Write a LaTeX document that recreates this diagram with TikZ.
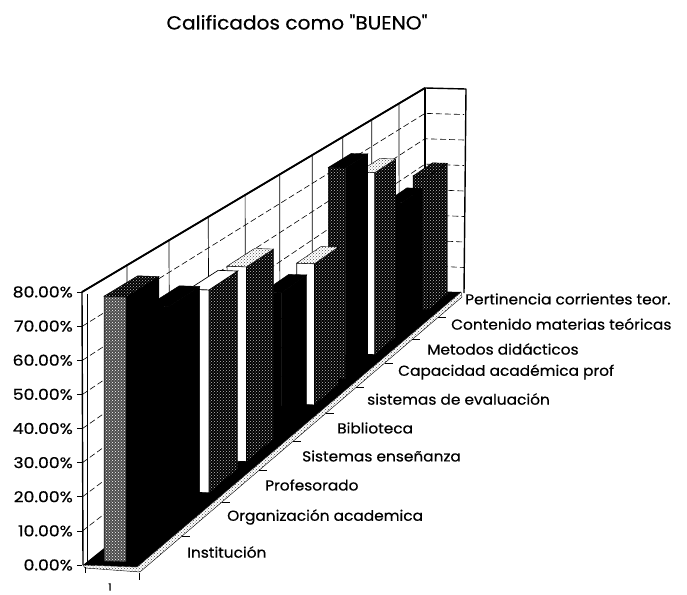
\documentclass[tikz,border=0pt]{standalone}
\usepackage{fontspec}
\setmainfont{Poppins}
\newfontfamily\labfont{Poppins}[FakeStretch=1.06,FakeBold=0.5]
\newfontfamily\numfont{Poppins}[FakeStretch=1.15,FakeBold=0.5]
\usetikzlibrary{patterns}
\newcommand\drawbar[5]{%
  \pgfmathsetmacro\ta{#1/10+0.012}%
  \pgfmathsetmacro\tb{#1/10+0.088}%
  \path[#4] ({px(\ta,0.70)},{py(\ta,0.70,0)}) -- ({px(\tb,0.70)},{py(\tb,0.70,0)}) -- ({px(\tb,0.70)},{py(\tb,0.70,#2)}) -- ({px(\ta,0.70)},{py(\ta,0.70,#2)}) -- cycle;
  \path[#3] ({px(\ta,0.29)},{py(\ta,0.29,0)}) -- ({px(\ta,0.70)},{py(\ta,0.70,0)}) -- ({px(\ta,0.70)},{py(\ta,0.70,#2)}) -- ({px(\ta,0.29)},{py(\ta,0.29,#2)}) -- cycle;
  \path[#5] ({px(\ta,0.29)},{py(\ta,0.29,#2)}) -- ({px(\ta,0.70)},{py(\ta,0.70,#2)}) -- ({px(\tb,0.70)},{py(\tb,0.70,#2)}) -- ({px(\tb,0.29)},{py(\tb,0.29,#2)}) -- cycle;
}
\begin{document}
\begin{tikzpicture}[x=1pt,y=-1pt,
  declare function={
    uu(\td)=1.36*\td/(1+0.36*\td);
    px(\td,\sd)=(1-uu(\td))*(83+54*\sd)+uu(\td)*(425+36*\sd);
    py(\td,\sd,\hd)=(1-uu(\td))*(565+2*\sd)+uu(\td)*(291+1*\sd)-\hd*341.25/(1+0.36*\td);
  },
  blk/.style={fill=black,draw=black,line width=0.4pt},
  dpat/.style={preaction={fill=black},pattern=crosshatch dots,pattern color=white!75!black,draw=black,line width=0.4pt},
  mpat/.style={preaction={fill=black!70},pattern=crosshatch dots,pattern color=white,draw=black,line width=0.4pt},
  wht/.style={fill=white,draw=black,line width=0.7pt},
  lpat/.style={preaction={fill=white},pattern=crosshatch dots,pattern color=black!70,draw=black,line width=0.4pt},
  wallfill/.style={fill=white},
  walledge/.style={draw=black,line width=1.4pt,line join=round},
  gridln/.style={draw=black,line width=0.6pt,dash pattern=on 6pt off 3pt},
  divln/.style={draw=black,line width=0.7pt},
  tickln/.style={draw=black,line width=0.7pt},
  ylab/.style={anchor=east,inner sep=0pt,font=\numfont\fontsize{15}{15}\selectfont},
  clab/.style={anchor=west,inner sep=0pt,font=\labfont\fontsize{14.5}{14.5}\selectfont},
]
\useasboundingbox[fill=white] (0,0) rectangle (687,594);

% walls
\path[wallfill] (82,292) -- (425,88) -- (425,291) -- (83,565) -- cycle;
\path[wallfill] (425,88) -- (466,89) -- (464,293) -- (425,291) -- cycle;
\foreach \k in {1,...,9}
  \draw[divln] ({82+343*uu(\k/10)},{292-204*uu(\k/10)}) -- ({83+342*uu(\k/10)},{565-274*uu(\k/10)});
\foreach \k in {1,...,7}
  \draw[gridln] (82.5,{565-34.125*\k}) -- (425,{291-25.375*\k}) -- (464,{293-25.5*\k});
\draw[walledge] (83,565) -- (82,292) -- (425,88) -- (466,89) -- (464,293);
\draw[line width=1.8pt] (82,292) -- (425,88);
\draw[walledge] (425,88) -- (425,291);
\draw[line width=0.7pt] (87,563) -- (87,294);

% floor
\path[fill=black] ({px(0,0)},{py(0,0,0)}) -- ({px(0,1)},{py(0,1,0)}) -- ({px(1,1)},{py(1,1,0)}) -- ({px(1,0)},{py(1,0,0)}) -- cycle;
\path[lpat] ({px(0,0)},{py(0,0,0)}) -- ({px(0,1)},{py(0,1,0)}) -- ({px(1,1)},{py(1,1,0)}) -- ({px(1,1)+1},{py(1,1,0)+5}) -- ({px(0,1)+3},{py(0,1,0)+5}) -- ({px(0,0)+2},{py(0,0,0)+3}) -- cycle;

% bars, back to front
\drawbar{9}{0.52}{dpat}{dpat}{dpat}
\drawbar{8}{0.49}{blk}{blk}{blk}
\drawbar{7}{0.67}{wht}{dpat}{lpat}
\drawbar{6}{0.755}{dpat}{blk}{blk}
\drawbar{5}{0.49}{wht}{dpat}{lpat}
\drawbar{4}{0.47}{blk}{blk}{blk}
\drawbar{3}{0.635}{wht}{dpat}{lpat}
\drawbar{2}{0.64}{wht}{dpat}{wht}
\drawbar{1}{0.67}{blk}{blk}{blk}
\drawbar{0}{0.78}{mpat}{blk}{dpat}

% depth ticks
\foreach \k in {1,...,9}
  \draw[tickln] ({140+322*uu(\k/10)},{572-275*uu(\k/10)}) -- ++(8,0);
\draw[tickln] (85,567) -- (85,573);
\draw[tickln] (139,573) -- (139,580);

% y axis
\foreach \k/\lab in {0/0.00,1/10.00,2/20.00,3/30.00,4/40.00,5/50.00,6/60.00,7/70.00,8/80.00} {
  \draw[tickln] (77,{565-34.125*\k}) -- (82,{565-34.125*\k});
  \node[ylab] (y\k) at (73,{565-34.125*\k}) {\lab\%};
}

% category labels
\node[clab] (c1) at (187,552) {Institución};
\node[clab] (c2) at (227,517) {Organización academica};
\node[clab] (c3) at (265,485) {Profesorado};
\node[clab] (c4) at (302,456) {Sistemas enseñanza};
\node[clab] (c5) at (337,428) {Biblioteca};
\node[clab] (c6) at (367,399) {sistemas de evaluación};
\node[clab] (c7) at (398,372) {Capacidad académica prof};
\node[clab] (c8) at (427,349) {Metodos didácticos};
\node[clab] (c9) at (451,324) {Contenido materias teóricas};
\node[clab] (c10) at (465,299) {Pertinencia corrientes teor.};

\node[font=\labfont\fontsize{10}{10}\selectfont] (xl) at (110,587) {1};
\node[font=\labfont\fontsize{19}{19}\selectfont] (title) at (297,22) {Calificados como "BUENO"};
\end{tikzpicture}
\end{document}
